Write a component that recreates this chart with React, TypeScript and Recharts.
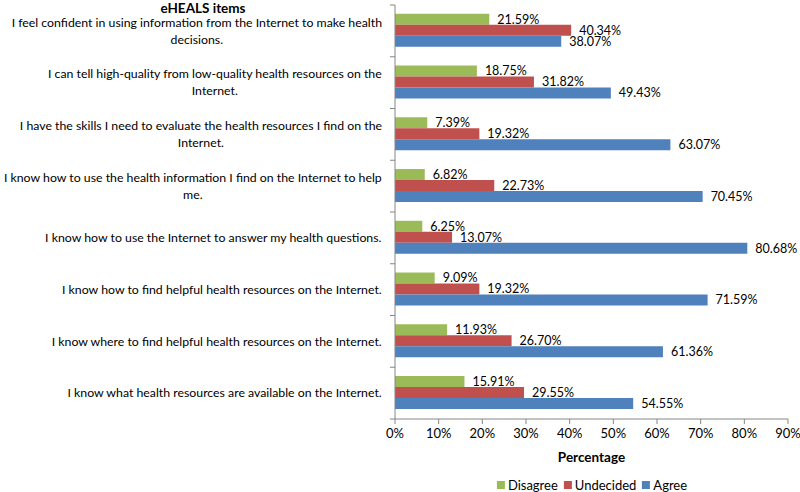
import React from 'react'
import { BarChart, Bar, XAxis, YAxis, LabelList } from 'recharts'

// eHEALS items, top to bottom ("\n" marks where the original label wraps)
const items = [
  'I feel confident in using information from the Internet to make health\ndecisions.',
  'I can tell high-quality from low-quality health resources on the\nInternet.',
  'I have the skills I need to evaluate the health resources I find on the\nInternet.',
  'I know how to use the health information I find on the Internet to help\nme.',
  'I know how to use the Internet to answer my health questions.',
  'I know how to find helpful health resources on the Internet.',
  'I know where to find helpful health resources on the Internet.',
  'I know what health resources are available on the Internet.',
]
const disagree = [21.59, 18.75, 7.39, 6.82, 6.25, 9.09, 11.93, 15.91]
const undecided = [40.34, 31.82, 19.32, 22.73, 13.07, 19.32, 26.7, 29.55]
const agree = [38.07, 49.43, 63.07, 70.45, 80.68, 71.59, 61.36, 54.55]
const xTicks = [0, 10, 20, 30, 40, 50, 60, 70, 80, 90]

const series = [
  { key: 'disagree', name: 'Disagree', color: '#9BBB59' },
  { key: 'undecided', name: 'Undecided', color: '#C0504D' },
  { key: 'agree', name: 'Agree', color: '#4F81BD' },
]

const data = items.map((item, i) => ({
  item,
  disagree: disagree[i],
  undecided: undecided[i],
  agree: agree[i],
}))

const FONT_FAMILY = 'Lato, "Noto Sans", sans-serif'
const LABEL_SIZE = 12.3
const AXIS_COLOR = '#868686'
const PLOT_HEIGHT = 414

let ctx: CanvasRenderingContext2D | null = null
function textWidth(s: string) {
  if (!ctx && typeof document !== 'undefined') {
    ctx = document.createElement('canvas').getContext('2d')
  }
  if (!ctx) return s.length * 6
  ctx.font = `${LABEL_SIZE}px ${FONT_FAMILY}`
  return ctx.measureText(s).width
}

function ItemTick(props: any) {
  const { x, y, payload, index } = props
  const lines = String(payload.value).split('\n')
  const w = Math.max(...lines.map(textWidth))
  const cx = x - w / 2
  const lh = 17
  const top = y - ((lines.length - 1) * lh) / 2
  const half = payload.offset || PLOT_HEIGHT / items.length / 2
  const axisX = x + 13
  return (
    <g>
      {lines.map((l, i) => (
        <text
          key={i}
          x={cx}
          y={top + i * lh}
          dy="0.35em"
          textAnchor="middle"
          fontSize={LABEL_SIZE}
          fill="#000"
        >
          {l}
        </text>
      ))}
      <line x1={axisX - 5} x2={axisX} y1={y - half} y2={y - half} stroke={AXIS_COLOR} />
      {index === items.length - 1 && (
        <line x1={axisX - 5} x2={axisX} y1={y + half} y2={y + half} stroke={AXIS_COLOR} />
      )}
    </g>
  )
}

export default function App() {
  return (
    <div
      style={{
        position: 'absolute',
        left: 0,
        top: 0,
        width: 800,
        height: 492,
        background: '#fff',
        fontFamily: FONT_FAMILY,
      }}
    >
      <div
        style={{
          position: 'absolute',
          left: 203,
          top: 1,
          transform: 'translateX(-50%)',
          fontWeight: 700,
          fontSize: 13.5,
          lineHeight: '14px',
          whiteSpace: 'nowrap',
        }}
      >
        eHEALS items
      </div>
      <BarChart
        width={800}
        height={492}
        data={data}
        layout="vertical"
        margin={{ top: 5, right: 12, left: 0, bottom: 20 }}
        barCategoryGap="17%"
        barGap={0}
      >
        <XAxis
          type="number"
          domain={[0, 90]}
          ticks={xTicks}
          tickFormatter={(v) => `${v}%`}
          axisLine={{ stroke: AXIS_COLOR }}
          tickLine={{ stroke: AXIS_COLOR }}
          tickSize={5}
          tickMargin={5}
          tick={{ fill: '#000', fontSize: 13 }}
          height={53}
          label={{
            value: 'Percentage',
            position: 'insideBottom',
            offset: 10,
            fill: '#000',
            fontSize: 13.5,
            fontWeight: 700,
          }}
        />
        <YAxis
          type="category"
          dataKey="item"
          width={395}
          axisLine={{ stroke: AXIS_COLOR }}
          tickLine={false}
          tickSize={0}
          tickMargin={13}
          tick={<ItemTick />}
          interval={0}
        />
        {series.map((s) => (
          <Bar key={s.key} dataKey={s.key} name={s.name} fill={s.color} isAnimationActive={false}>
            <LabelList
              dataKey={s.key}
              position="right"
              offset={8}
              fill="#000"
              fontSize={12.5}
              formatter={(v: any) => `${Number(v).toFixed(2)}%`}
            />
          </Bar>
        ))}
      </BarChart>
      <div
        style={{
          position: 'absolute',
          left: 592,
          top: 477,
          transform: 'translateX(-50%)',
          display: 'flex',
          gap: 6,
          fontSize: 13,
          whiteSpace: 'nowrap',
        }}
      >
        {series.map((s) => (
          <div key={s.key} style={{ display: 'flex', alignItems: 'center', gap: 3 }}>
            <div style={{ width: 8, height: 8, background: s.color }} />
            <span>{s.name}</span>
          </div>
        ))}
      </div>
    </div>
  )
}
